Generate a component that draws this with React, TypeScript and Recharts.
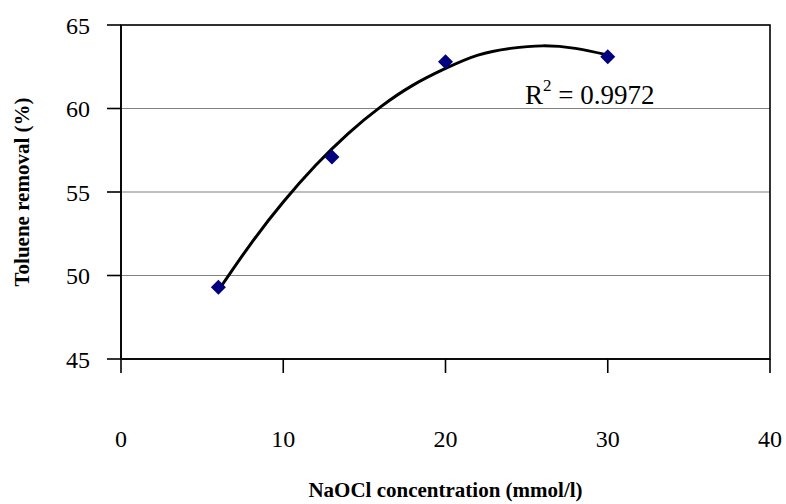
import {
  ComposedChart, Line, Scatter, XAxis, YAxis, CartesianGrid, ReferenceArea, ReferenceDot, Label,
} from 'recharts';

const FONT = '"Liberation Serif", "Times New Roman", Times, serif';

const xTicks = [0, 10, 20, 30, 40];
const yTicks = [45, 50, 55, 60, 65];

// measured removal at each NaOCl dose
const doses = [6, 13, 20, 30];
const removal = [49.3, 57.1, 62.8, 63.1];

// 2nd order polynomial trendline, sampled along the curve
const trendX = [6, 8, 10, 12, 14, 16, 18, 20, 22, 24, 26, 28, 30];
const trendY = [49.1, 51.9, 54.4, 56.6, 58.5, 60.1, 61.4, 62.4, 63.2, 63.6, 63.75, 63.6, 63.2];

const r2Value = '0.9972';
const r2At = { x: 24.9, y: 60.27 };

const points = doses.map((x, i) => ({ x, y: removal[i] }));
const trend = trendX.map((x, i) => ({ x, y: trendY[i] }));

function Diamond(props: any) {
  const { cx, cy } = props;
  const s = 7.5;
  return (
    <polygon
      points={`${cx},${cy - s} ${cx + s},${cy} ${cx},${cy + s} ${cx - s},${cy}`}
      fill="#000080"
    />
  );
}

function XTick(props: any) {
  const { x, y, payload } = props;
  return (
    <text x={x} y={y} dy={72} textAnchor="middle" fontFamily={FONT} fontSize={24} fill="#000">
      {payload.value}
    </text>
  );
}

function R2Text(props: any) {
  const { viewBox } = props;
  return (
    <text x={viewBox.x} y={viewBox.y} fontFamily={FONT} fontSize={27} fill="#000">
      R<tspan dy={-13} fontSize={17}>2</tspan>
      <tspan dy={13}>{` = ${r2Value}`}</tspan>
    </text>
  );
}

export default function App() {
  return (
    <div style={{ position: 'absolute', left: 0, top: 0, background: '#fff' }}>
      <ComposedChart
        width={786}
        height={504}
        margin={{ top: 25, right: 16, bottom: 0, left: 0 }}
      >
        <CartesianGrid vertical={false} stroke="#808080" strokeWidth={1.2} />
        <ReferenceArea x1={0} x2={40} y1={45} y2={65} fill="none" stroke="#000" strokeWidth={1.6} />
        <XAxis
          type="number"
          dataKey="x"
          domain={[0, 40]}
          ticks={xTicks}
          interval={0}
          height={145}
          tickSize={14}
          tickMargin={2}
          stroke="#000"
          strokeWidth={1.6}
          tick={<XTick />}
        >
          <Label
            content={({ viewBox }: any) => (
              <text
                x={viewBox.x + viewBox.width / 2}
                y={viewBox.y + viewBox.height - 7}
                textAnchor="middle"
                fontFamily={FONT}
                fontWeight="bold"
                fontSize={21}
                fill="#000"
              >
                NaOCl concentration (mmol/l)
              </text>
            )}
          />
        </XAxis>
        <YAxis
          type="number"
          dataKey="y"
          domain={[45, 65]}
          ticks={yTicks}
          interval={0}
          width={121}
          tickSize={14}
          tickMargin={17}
          stroke="#000"
          strokeWidth={1.6}
          tick={{ fontFamily: FONT, fontSize: 24, fill: '#000' }}
        >
          <Label
            content={({ viewBox }: any) => {
              const cx = viewBox.x + 22;
              const cy = viewBox.y + viewBox.height / 2;
              return (
                <text
                  x={cx}
                  y={cy}
                  transform={`rotate(-90 ${cx} ${cy})`}
                  textAnchor="middle"
                  dominantBaseline="central"
                  fontFamily={FONT}
                  fontWeight="bold"
                  fontSize={21}
                  fill="#000"
                >
                  Toluene removal (%)
                </text>
              );
            }}
          />
        </YAxis>
        <Line
          data={trend}
          dataKey="y"
          type="natural"
          stroke="#000"
          strokeWidth={3}
          dot={false}
          activeDot={false}
          isAnimationActive={false}
        />
        <Scatter data={points} dataKey="y" shape={<Diamond />} isAnimationActive={false} />
        <ReferenceDot x={r2At.x} y={r2At.y} r={0.01} fill="none" stroke="none" label={<R2Text />} />
      </ComposedChart>
    </div>
  );
}
